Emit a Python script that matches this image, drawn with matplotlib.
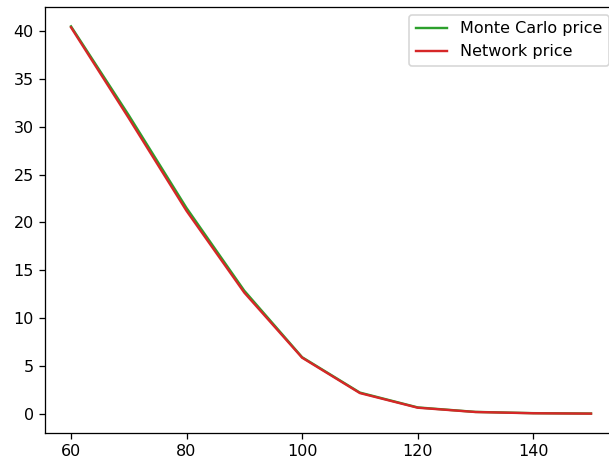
import matplotlib
matplotlib.use("Agg")
import matplotlib.pyplot as plt

strikes = [60, 70, 80, 90, 100, 110, 120, 130, 140, 150]
mc_price = [40.5, 31.2, 21.5, 12.85, 5.9, 2.2, 0.65, 0.18, 0.05, 0.01]
net_price = [40.4, 30.9, 21.2, 12.65, 5.85, 2.15, 0.62, 0.17, 0.04, 0.0]

dpi = 115
fig = plt.figure(figsize=(609 / dpi, 461 / dpi), dpi=dpi)
ax = fig.add_axes([45 / 609, 28 / 461, 572 / 609, 426 / 461])
ax.plot(strikes, mc_price, color="tab:green", label="Monte Carlo price")
ax.plot(strikes, net_price, color="tab:red", label="Network price")
ax.spines["right"].set_visible(False)
ax.legend(loc="upper right")
fig.savefig("out.png", dpi=dpi)
